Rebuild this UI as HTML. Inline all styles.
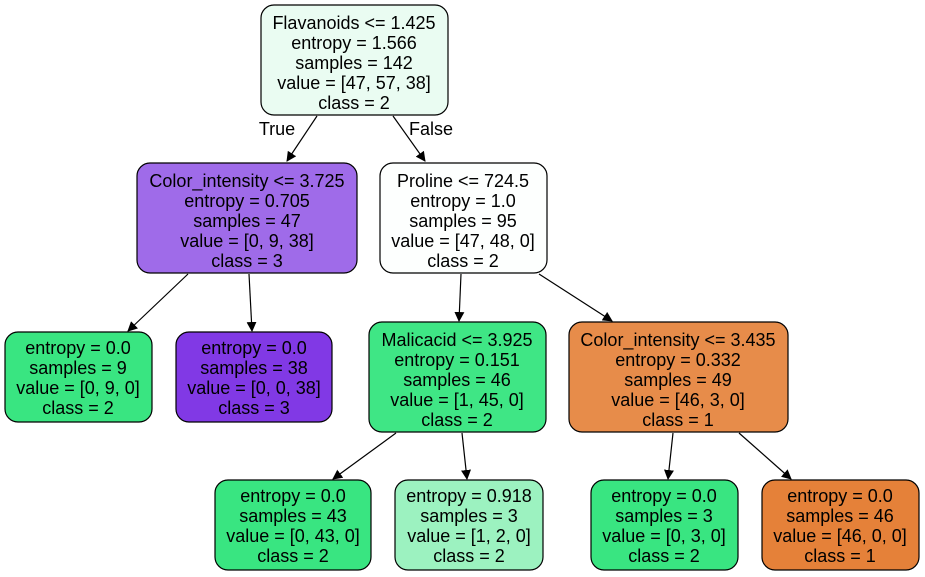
<!DOCTYPE html>
<html><head><meta charset="utf-8"><style>html,body{margin:0;padding:0;background:#fff}svg{display:block}text{font-family:"Liberation Sans",Arial,sans-serif;font-size:18px;text-anchor:middle;fill:#000}</style></head><body>
<svg width="925" height="577" viewBox="0 0 925 577" xmlns="http://www.w3.org/2000/svg">
<defs><marker id="a" markerWidth="10" markerHeight="10" refX="9" refY="5" orient="auto" markerUnits="userSpaceOnUse"><path d="M0,0 L10,5 L0,10 z" fill="#000"/></marker></defs>
<g stroke="#000" stroke-width="1.2" fill="none">
<line x1="317" y1="116" x2="287" y2="161" marker-end="url(#a)"/>
<line x1="393" y1="116" x2="425" y2="161" marker-end="url(#a)"/>
<line x1="188" y1="274" x2="128" y2="331" marker-end="url(#a)"/>
<line x1="249" y1="274" x2="252" y2="331" marker-end="url(#a)"/>
<line x1="461" y1="274" x2="459" y2="321" marker-end="url(#a)"/>
<line x1="539" y1="274" x2="612" y2="321" marker-end="url(#a)"/>
<line x1="396" y1="433" x2="333" y2="479" marker-end="url(#a)"/>
<line x1="462" y1="433" x2="467" y2="479" marker-end="url(#a)"/>
<line x1="673" y1="433" x2="668" y2="479" marker-end="url(#a)"/>
<line x1="739" y1="433" x2="791" y2="479" marker-end="url(#a)"/>
</g>
<text x="277" y="135">True</text>
<text x="431" y="135">False</text>
<g stroke="#000" stroke-width="1.2">
<rect x="261" y="5" width="187" height="110" rx="13" fill="#eafcf2"/>
<rect x="137" y="163" width="220" height="110" rx="13" fill="#9f6be9"/>
<rect x="380" y="163" width="167" height="110" rx="13" fill="#fdfffe"/>
<rect x="5" y="332" width="147" height="90" rx="13" fill="#39e581"/>
<rect x="176" y="332" width="156" height="90" rx="13" fill="#8139e5"/>
<rect x="369" y="322" width="177" height="110" rx="13" fill="#3fe685"/>
<rect x="569" y="322" width="219" height="110" rx="13" fill="#e78c4a"/>
<rect x="215" y="480" width="156" height="90" rx="13" fill="#39e581"/>
<rect x="395" y="480" width="148" height="90" rx="13" fill="#9cf2c0"/>
<rect x="591" y="480" width="147" height="90" rx="13" fill="#39e581"/>
<rect x="762" y="480" width="157" height="90" rx="13" fill="#e58139"/>
</g>
<text x="354" y="29">Flavanoids &lt;= 1.425</text><text x="354" y="49">entropy = 1.566</text><text x="354" y="69">samples = 142</text><text x="354" y="89">value = [47, 57, 38]</text><text x="354" y="109">class = 2</text>
<text x="247" y="187">Color_intensity &lt;= 3.725</text><text x="247" y="207">entropy = 0.705</text><text x="247" y="227">samples = 47</text><text x="247" y="247">value = [0, 9, 38]</text><text x="247" y="267">class = 3</text>
<text x="463" y="187">Proline &lt;= 724.5</text><text x="463" y="207">entropy = 1.0</text><text x="463" y="227">samples = 95</text><text x="463" y="247">value = [47, 48, 0]</text><text x="463" y="267">class = 2</text>
<text x="78" y="354">entropy = 0.0</text><text x="78" y="374">samples = 9</text><text x="78" y="394">value = [0, 9, 0]</text><text x="78" y="414">class = 2</text>
<text x="254" y="354">entropy = 0.0</text><text x="254" y="374">samples = 38</text><text x="254" y="394">value = [0, 0, 38]</text><text x="254" y="414">class = 3</text>
<text x="457" y="346">Malicacid &lt;= 3.925</text><text x="457" y="366">entropy = 0.151</text><text x="457" y="386">samples = 46</text><text x="457" y="406">value = [1, 45, 0]</text><text x="457" y="426">class = 2</text>
<text x="678" y="346">Color_intensity &lt;= 3.435</text><text x="678" y="366">entropy = 0.332</text><text x="678" y="386">samples = 49</text><text x="678" y="406">value = [46, 3, 0]</text><text x="678" y="426">class = 1</text>
<text x="293" y="502">entropy = 0.0</text><text x="293" y="522">samples = 43</text><text x="293" y="542">value = [0, 43, 0]</text><text x="293" y="562">class = 2</text>
<text x="469" y="502">entropy = 0.918</text><text x="469" y="522">samples = 3</text><text x="469" y="542">value = [1, 2, 0]</text><text x="469" y="562">class = 2</text>
<text x="664" y="502">entropy = 0.0</text><text x="664" y="522">samples = 3</text><text x="664" y="542">value = [0, 3, 0]</text><text x="664" y="562">class = 2</text>
<text x="840" y="502">entropy = 0.0</text><text x="840" y="522">samples = 46</text><text x="840" y="542">value = [46, 0, 0]</text><text x="840" y="562">class = 1</text>
</svg>
</body></html>
